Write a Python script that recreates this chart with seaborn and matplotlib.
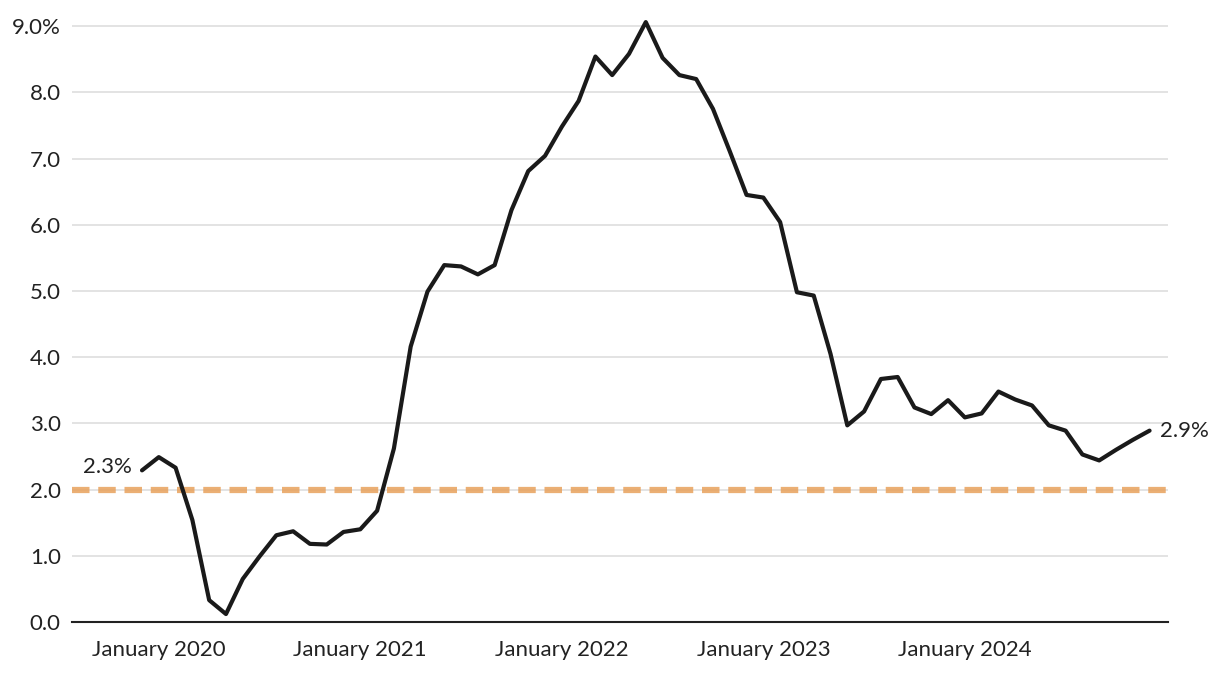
import matplotlib
matplotlib.use("Agg")
import matplotlib.pyplot as plt
import seaborn as sns
import pandas as pd

# monthly values, Dec 2019 .. Dec 2024
months = pd.date_range("2019-12-01", "2024-12-01", freq="MS")
inflation = [2.29, 2.49, 2.33, 1.54, 0.33, 0.12, 0.65, 0.99, 1.31, 1.37, 1.18, 1.17,
             1.36, 1.40, 1.68, 2.62, 4.16, 4.99, 5.39, 5.37, 5.25, 5.39, 6.22, 6.81,
             7.04, 7.48, 7.87, 8.54, 8.26, 8.58, 9.06, 8.52, 8.26, 8.20, 7.75, 7.11,
             6.45, 6.41, 6.04, 4.98, 4.93, 4.05, 2.97, 3.18, 3.67, 3.70, 3.24, 3.14,
             3.35, 3.09, 3.15, 3.48, 3.36, 3.27, 2.97, 2.89, 2.53, 2.44, 2.60, 2.75,
             2.89]
target = 2.0
y_ticks = [0, 1, 2, 3, 4, 5, 6, 7, 8, 9]
y_labels = ["0.0", "1.0", "2.0", "3.0", "4.0", "5.0", "6.0", "7.0", "8.0", "9.0%"]
x_tick_labels = ["January 2020", "January 2021", "January 2022", "January 2023", "January 2024"]

df = pd.DataFrame({"month": range(len(months)), "value": inflation})

sns.set_style("white")
plt.rcParams["font.family"] = ["Lato", "DejaVu Sans"]

fig = plt.figure(figsize=(12.2, 6.76), dpi=100)
ax = fig.add_axes([0.059, 0.0799, 0.898, 0.9011])

for y in y_ticks[1:]:
    ax.axhline(y, color="#e3e3e3", lw=1.4, zorder=0)

ax.axhline(target, color="#e8a15c", alpha=0.85, lw=4.5, ls=(0, (2.8, 1.4)), zorder=1)

sns.lineplot(data=df, x="month", y="value", color="#1a1a1a", lw=3, ax=ax,
             zorder=3, clip_on=False)

ax.set_xlim(-4.17, 61.07)
ax.set_ylim(0, 9.2)
ax.set_yticks(y_ticks)
ax.set_yticklabels(y_labels)
ax.set_xticks([1, 13, 25, 37, 49])
ax.set_xticklabels(x_tick_labels)
ax.tick_params(axis="both", length=0, labelsize=16, colors="#222222")
ax.tick_params(axis="x", pad=13)
ax.tick_params(axis="y", pad=8)
ax.set_xlabel("")
ax.set_ylabel("")

for side in ["top", "right", "left"]:
    ax.spines[side].set_visible(False)
ax.spines["bottom"].set_color("#222222")
ax.spines["bottom"].set_linewidth(1.5)

ax.text(df["month"].iloc[0] - 0.6, inflation[0] + 0.05, f"{inflation[0]:.1f}%",
        ha="right", va="center", fontsize=16, color="#222222")
ax.text(df["month"].iloc[-1] + 0.6, inflation[-1], f"{inflation[-1]:.1f}%",
        ha="left", va="center", fontsize=16, color="#222222")

fig.savefig("out.png", dpi=100)
